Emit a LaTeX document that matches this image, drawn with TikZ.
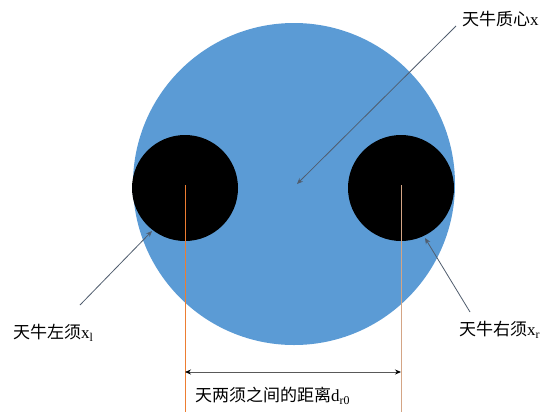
\documentclass[tikz,border=0pt]{standalone}
\usepackage{fontspec}
\setmainfont{Liberation Serif}
\newfontfamily\cjk{Noto Sans CJK SC}
\usetikzlibrary{arrows.meta}
\definecolor{bodyblue}{HTML}{5B9BD5}
\definecolor{refor}{HTML}{ED7D31}
\definecolor{ptr}{HTML}{44546A}
\tikzset{
  lbl/.style={inner sep=0pt, font=\fontsize{17}{19}\selectfont},
  ptrline/.style={draw=ptr!80!gray, line width=0.8pt, -{Stealth[length=6pt,width=5pt]}},
  guide/.style={draw=refor, line width=0.9pt},
}
\begin{document}
\begin{tikzpicture}[x=1pt,y=-1pt]
\useasboundingbox (0,0) rectangle (549,416);
\fill[white] (0,0) rectangle (549,416);
\node[circle, fill=bodyblue, minimum size=322pt, inner sep=0pt] (body) at (294,184) {};
\node[circle, fill=black, minimum size=106pt, inner sep=0pt] (lw) at (185,188) {};
\node[circle, fill=black, minimum size=106pt, inner sep=0pt] (rw) at (401,188) {};
\coordinate (lc) at (185,185);
\coordinate (rc) at (401,185);
\coordinate (lb) at (185,412);
\coordinate (rb) at (401,412);
\draw[guide] (lc) -- (lb);
\draw[guide, draw=refor!60!gray!70] (rc) -- (rb);
\coordinate (la) at (185,372);
\coordinate (ra) at (401,372);
\draw[gray!70!black, line width=0.8pt, {Stealth[length=6pt,width=5pt,black]}-{Stealth[length=6pt,width=5pt,black]}] (la) -- (ra);
\coordinate (cm) at (297,184);
\node[lbl, anchor=west] (tc) at (462,19) {{\cjk 天牛质心}x};
\node[lbl, anchor=west] (tl) at (13,333) {{\cjk 天牛左须}x\textsubscript{l}};
\node[lbl, anchor=west] (tr) at (459,330) {{\cjk 天牛右须}x\textsubscript{r}};
\node[lbl, anchor=west] (td) at (195,396) {{\cjk 天两须之间的距离}d\textsubscript{r0}};
\coordinate (s1) at (456,26);
\coordinate (s2) at (80,305);
\coordinate (e2) at (152,231);
\coordinate (s3) at (470,312);
\coordinate (e3) at (425,238);
\draw[ptrline] (s1) -- (cm);
\draw[ptrline] (s2) -- (e2);
\draw[ptrline] (s3) -- (e3);
\end{tikzpicture}
\end{document}
